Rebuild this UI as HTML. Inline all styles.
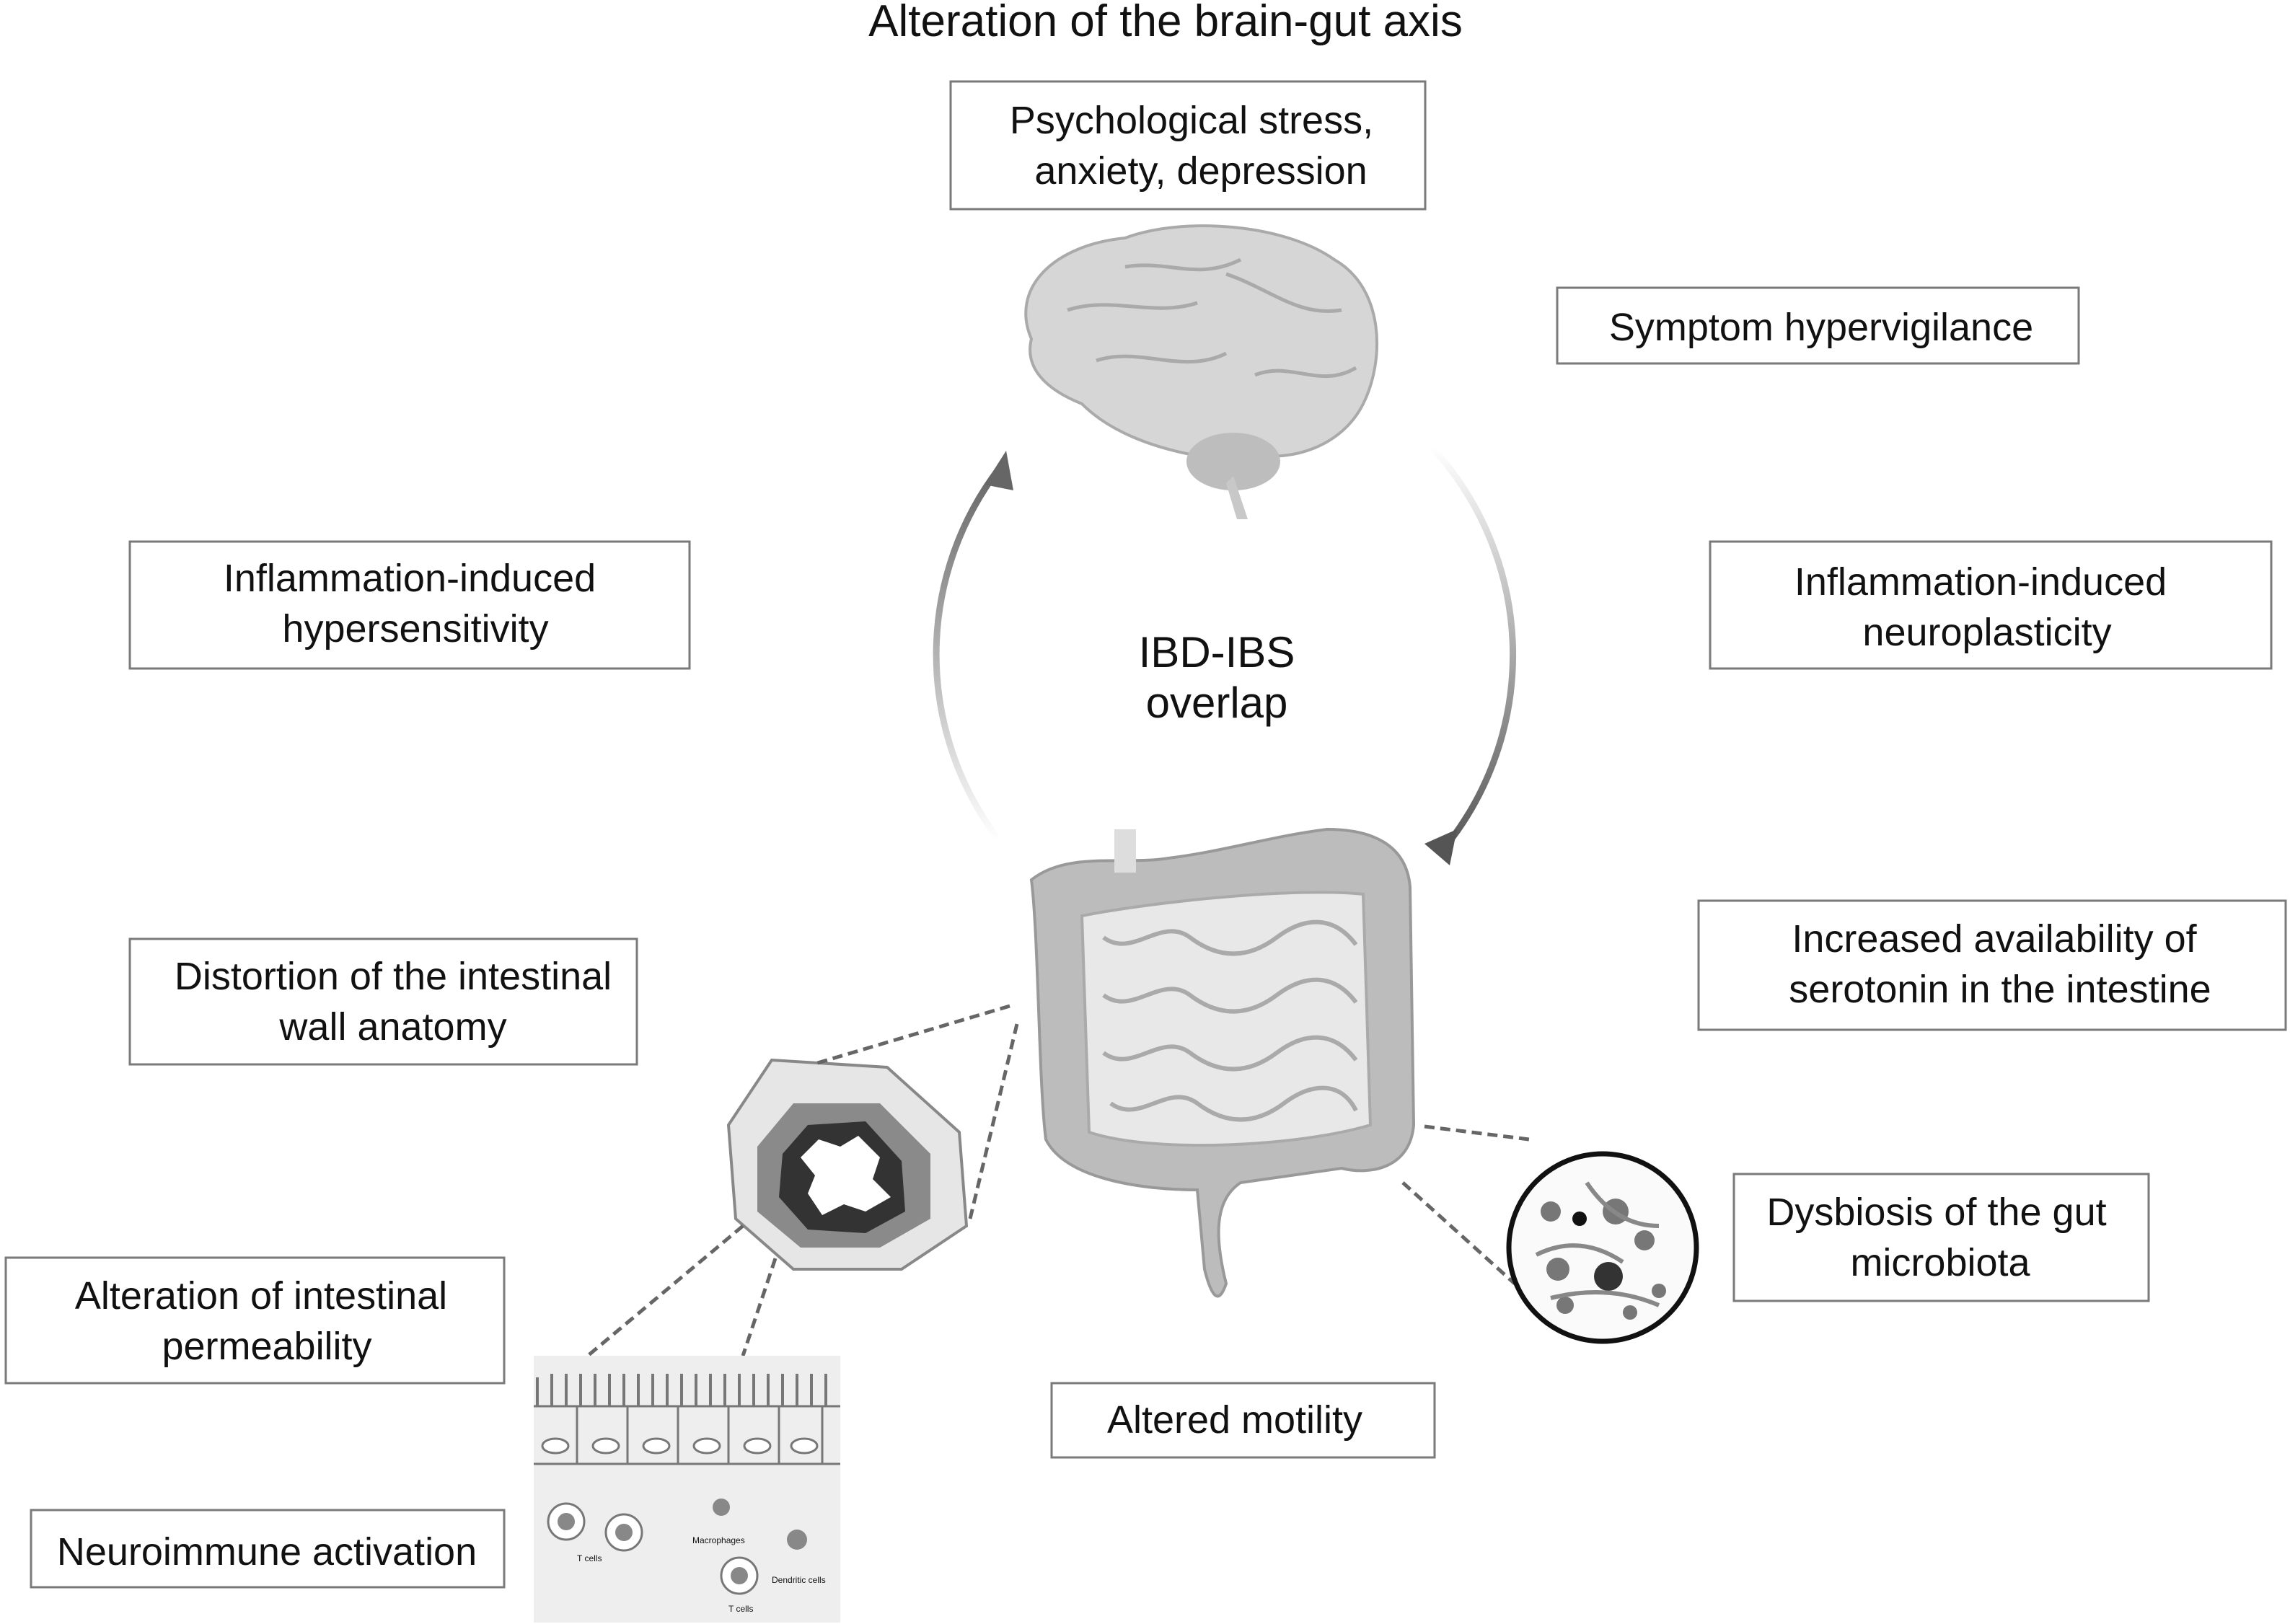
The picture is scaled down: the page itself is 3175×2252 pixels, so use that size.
<!DOCTYPE html>
<html><head><meta charset="utf-8"><style>
html,body{margin:0;padding:0;background:#fff;}
svg{display:block;}
text{font-family:"Liberation Sans",Arial,sans-serif;fill:#111;}
.b{fill:#fff;stroke:#7a7a7a;stroke-width:3;}
.t{font-size:54px;text-anchor:middle;}
</style></head><body>
<svg width="3175" height="2252" viewBox="0 0 3175 2252" xmlns="http://www.w3.org/2000/svg">
<defs>
<linearGradient id="gl" x1="0" y1="1" x2="0" y2="0"><stop offset="0" stop-color="#fff"/><stop offset="1" stop-color="#666"/></linearGradient>
<linearGradient id="gr" x1="0" y1="0" x2="0" y2="1"><stop offset="0" stop-color="#fff"/><stop offset="1" stop-color="#555"/></linearGradient>
</defs>
<text x="1616" y="50" class="t" style="font-size:62px">Alteration of the brain-gut axis</text>

<rect class="b" x="1318" y="113" width="658" height="177"/>
<text x="1652" y="185" class="t">Psychological stress,</text>
<text x="1665" y="255" class="t">anxiety, depression</text>

<rect class="b" x="2159" y="399" width="723" height="105"/>
<text x="2525" y="472" class="t">Symptom hypervigilance</text>

<rect class="b" x="180" y="751" width="776" height="176"/>
<text x="568" y="820" class="t">Inflammation-induced</text>
<text x="576" y="890" class="t">hypersensitivity</text>

<rect class="b" x="2371" y="751" width="778" height="176"/>
<text x="2746" y="825" class="t">Inflammation-induced</text>
<text x="2755" y="895" class="t">neuroplasticity</text>

<rect class="b" x="180" y="1302" width="703" height="174"/>
<text x="545" y="1372" class="t">Distortion of the intestinal</text>
<text x="545" y="1442" class="t">wall anatomy</text>

<rect class="b" x="2355" y="1249" width="814" height="179"/>
<text x="2765" y="1320" class="t">Increased availability of</text>
<text x="2773" y="1390" class="t">serotonin in the intestine</text>

<rect class="b" x="2404" y="1628" width="575" height="176"/>
<text x="2685" y="1699" class="t">Dysbiosis of the gut</text>
<text x="2690" y="1769" class="t">microbiota</text>

<rect class="b" x="8" y="1744" width="691" height="174"/>
<text x="362" y="1815" class="t">Alteration of intestinal</text>
<text x="370" y="1885" class="t">permeability</text>

<rect class="b" x="1458" y="1918" width="531" height="103"/>
<text x="1712" y="1987" class="t">Altered motility</text>

<rect class="b" x="43" y="2094" width="656" height="107"/>
<text x="370" y="2170" class="t">Neuroimmune activation</text>

<text x="1687" y="925" class="t" style="font-size:60px">IBD-IBS</text>
<text x="1687" y="995" class="t" style="font-size:60px">overlap</text>

<!-- arcs -->
<path d="M1385,1165 A425,425 0 0 1 1385,650" fill="none" stroke="url(#gl)" stroke-width="9"/>
<path d="M1365,672 L1395,625 L1405,680 Z" fill="#666"/>
<path d="M1985,620 A425,425 0 0 1 1995,1185" fill="none" stroke="url(#gr)" stroke-width="9"/>
<path d="M1975,1170 L2010,1200 L2020,1150 Z" fill="#555"/>

<!-- brain -->
<g>
<path d="M1430,470 C1400,400 1460,340 1560,330 C1640,300 1780,310 1850,360 C1920,400 1920,500 1890,560 C1860,620 1790,640 1740,630 C1720,660 1680,670 1650,630 C1600,620 1540,600 1500,560 C1450,540 1420,510 1430,470 Z" fill="#d6d6d6" stroke="#aaa" stroke-width="4"/>
<path d="M1480,430 C1540,410 1600,440 1660,420 M1520,500 C1580,480 1640,520 1700,490 M1700,380 C1760,400 1800,440 1860,430 M1560,370 C1620,360 1660,390 1720,360 M1740,520 C1790,500 1830,540 1880,510" fill="none" stroke="#aaa" stroke-width="5"/>
<ellipse cx="1710" cy="640" rx="65" ry="40" fill="#bdbdbd"/>
<path d="M1710,660 L1730,720 L1715,720 L1700,670 Z" fill="#c8c8c8"/>
</g>

<!-- intestine -->
<g>
<path d="M1430,1220 C1480,1180 1560,1200 1620,1190 C1700,1180 1760,1160 1840,1150 C1900,1150 1950,1170 1955,1230 L1960,1560 C1955,1620 1900,1630 1860,1620 L1720,1640 C1690,1660 1680,1700 1700,1780 C1690,1810 1680,1800 1670,1760 L1660,1650 C1600,1650 1480,1640 1450,1580 C1440,1500 1440,1300 1430,1220 Z" fill="#bcbcbc" stroke="#999" stroke-width="4"/>
<path d="M1500,1270 C1600,1250 1800,1230 1890,1240 L1900,1560 C1800,1590 1600,1600 1510,1570 Z" fill="#e8e8e8" stroke="#aaa" stroke-width="4"/>
<path d="M1530,1300 c40,30 80,-30 120,0 s80,30 120,0 s80,-30 110,10 M1530,1380 c40,30 80,-30 120,0 s80,30 120,0 s80,-30 110,10 M1530,1460 c40,30 80,-30 120,0 s80,30 120,0 s80,-30 110,10 M1540,1530 c40,30 80,-30 120,0 s80,30 120,0 s80,-30 100,10" fill="none" stroke="#aaa" stroke-width="6"/>
<rect x="1545" y="1150" width="30" height="60" fill="#ddd"/>
</g>

<!-- cross section -->
<path d="M1070,1470 L1230,1480 L1330,1570 L1340,1700 L1250,1760 L1100,1760 L1020,1690 L1010,1560 Z" fill="#e6e6e6" stroke="#888" stroke-width="4"/>
<path d="M1100,1530 L1220,1530 L1290,1600 L1290,1690 L1220,1730 L1110,1730 L1050,1680 L1050,1590 Z" fill="#8a8a8a"/>
<path d="M1120,1560 L1200,1555 L1250,1610 L1255,1680 L1200,1710 L1120,1705 L1080,1660 L1085,1600 Z" fill="#333"/>
<path d="M1135,1580 l30,10 l25,-15 l30,30 l-10,30 l25,25 l-35,20 l-30,-10 l-30,15 l-20,-30 l10,-25 l-20,-25 Z" fill="#fff"/>
<g stroke="#666" stroke-width="5" stroke-dasharray="14,8" fill="none">
<line x1="1400" y1="1395" x2="1130" y2="1475"/>
<line x1="1410" y1="1420" x2="1345" y2="1690"/>
<line x1="1030" y1="1700" x2="815" y2="1880"/>
<line x1="1075" y1="1745" x2="1030" y2="1880"/>
<line x1="1975" y1="1562" x2="2120" y2="1580"/>
<line x1="1945" y1="1640" x2="2100" y2="1780"/>
</g>

<!-- microbiota -->
<circle cx="2222" cy="1730" r="130" fill="#fafafa" stroke="#111" stroke-width="7"/>
<g fill="#777">
<circle cx="2150" cy="1680" r="14"/><circle cx="2190" cy="1690" r="10" fill="#111"/><circle cx="2240" cy="1680" r="18"/><circle cx="2280" cy="1720" r="14"/><circle cx="2160" cy="1760" r="16"/><circle cx="2230" cy="1770" r="20" fill="#333"/><circle cx="2300" cy="1790" r="10"/><circle cx="2170" cy="1810" r="12"/><circle cx="2260" cy="1820" r="10"/>
</g>
<path d="M2130,1740 q60,-30 120,10 M2200,1640 q40,60 100,60 M2150,1800 q80,-20 150,10" stroke="#888" stroke-width="6" fill="none"/>

<!-- tissue -->
<rect x="740" y="1880" width="425" height="370" fill="#eeeeee"/>
<path d="M745,1910 v40 M765,1905 v45 M785,1905 v45 M805,1905 v45 M825,1905 v45 M845,1905 v45 M865,1905 v45 M885,1905 v45 M905,1905 v45 M925,1905 v45 M945,1905 v45 M965,1905 v45 M985,1905 v45 M1005,1905 v45 M1025,1905 v45 M1045,1905 v45 M1065,1905 v45 M1085,1905 v45 M1105,1905 v45 M1125,1905 v45 M1145,1905 v45" stroke="#777" stroke-width="4"/>
<path d="M740,1950 H1165 M740,2030 H1165 M800,1950 v80 M870,1950 v80 M940,1950 v80 M1010,1950 v80 M1080,1950 v80 M1140,1950 v80" stroke="#777" stroke-width="3" fill="none"/>
<g fill="#fff" stroke="#777" stroke-width="3"><ellipse cx="770" cy="2005" rx="18" ry="10"/><ellipse cx="840" cy="2005" rx="18" ry="10"/><ellipse cx="910" cy="2005" rx="18" ry="10"/><ellipse cx="980" cy="2005" rx="18" ry="10"/><ellipse cx="1050" cy="2005" rx="18" ry="10"/><ellipse cx="1115" cy="2005" rx="18" ry="10"/>
<circle cx="785" cy="2110" r="25"/><circle cx="865" cy="2125" r="25"/><circle cx="1025" cy="2185" r="25"/></g>
<g fill="#888"><circle cx="785" cy="2110" r="12"/><circle cx="865" cy="2125" r="12"/><circle cx="1025" cy="2185" r="12"/><circle cx="1000" cy="2090" r="12"/><circle cx="1105" cy="2135" r="14"/></g>
<text x="800" y="2165" style="font-size:12px">T cells</text>
<text x="960" y="2140" style="font-size:12px">Macrophages</text>
<text x="1070" y="2195" style="font-size:12px">Dendritic cells</text>
<text x="1010" y="2235" style="font-size:12px">T cells</text>
</svg>
</body></html>
